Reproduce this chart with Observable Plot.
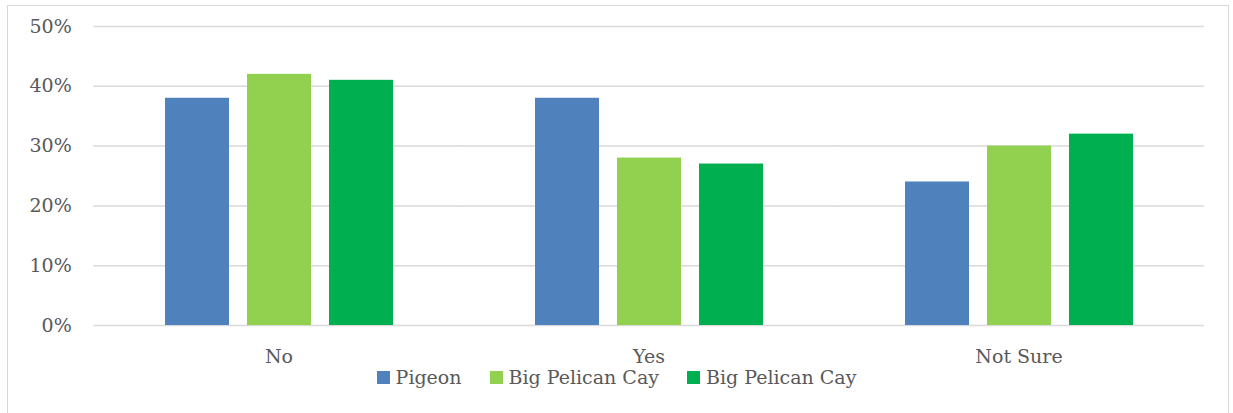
<!DOCTYPE html>
<html>
<head>
<meta charset="utf-8">
<script src="https://cdn.jsdelivr.net/npm/d3@7"></script>
<script src="https://cdn.jsdelivr.net/npm/@observablehq/plot@0.6"></script>
<style>
  html, body { margin: 0; padding: 0; background: #fff; }
  #wrap { position: relative; width: 1233px; height: 413px; overflow: hidden; font-family: "DejaVu Serif", serif; color: #595959; }
  #frame { position: absolute; left: 7px; top: 5px; width: 1222px; height: 420px; border: 1.5px solid #d9d9d9; box-sizing: border-box; }
  #chart { position: absolute; left: 0; top: 0; }
  #legend { position: absolute; left: 0; top: 366px; width: 1233px; display: flex; justify-content: center; align-items: center; font-size: 19px; gap: 28px; }
  .item { display: flex; align-items: center; }
  .sw { width: 13px; height: 13px; margin-right: 6px; }
</style>
</head>
<body>
<div id="wrap">
  <div id="frame"></div>
  <div id="chart"></div>
  <div id="legend"></div>
</div>
<script>
const categories = ["No", "Yes", "Not Sure"];
const seriesNames = ["Pigeon", "Big Pelican Cay", "Big Pelican Cay"];
const seriesKeys = ["s1", "s2", "s3"];
const seriesColors = ["#4F81BD", "#92D050", "#00B050"];
const pigeon = [0.38, 0.38, 0.24];
const bigPelicanCayA = [0.42, 0.28, 0.30];
const bigPelicanCayB = [0.41, 0.27, 0.32];
const yTicks = [0, 0.1, 0.2, 0.3, 0.4, 0.5];

const seriesValues = [pigeon, bigPelicanCayA, bigPelicanCayB];
const rows = [];
categories.forEach((c, i) => {
  seriesKeys.forEach((k, j) => rows.push({category: c, series: k, value: seriesValues[j][i]}));
});

const W = 1233, ML = 92, MR = 29;
const padInner = 0.382, padOuter = padInner / 2;
const step = (W - ML - MR) / categories.length;
const ext = (step * padInner) / 2;

const chart = Plot.plot({
  width: W,
  height: 366,
  marginLeft: ML,
  marginRight: MR,
  marginTop: 26,
  marginBottom: 41,
  style: {fontFamily: "DejaVu Serif", fontSize: "19px", color: "#595959", background: "transparent"},
  fx: {domain: categories, paddingInner: padInner, paddingOuter: padOuter, label: null, tickSize: 0, tickPadding: 24, axis: "bottom"},
  x: {domain: seriesKeys, paddingInner: 0.22, paddingOuter: 0, axis: null},
  y: {domain: [0, 0.5], ticks: yTicks, tickFormat: d => Math.round(d * 100) + "%", label: null, tickSize: 0, tickPadding: 22 + ext},
  color: {domain: seriesKeys, range: seriesColors},
  marks: [
    Plot.ruleY(yTicks, {stroke: "#d9d9d9", strokeWidth: 1.5, insetLeft: -ext, insetRight: -ext}),
    Plot.barY(rows, {fx: "category", x: "series", y: "value", fill: "series"})
  ]
});
document.getElementById("chart").appendChild(chart);

const legend = document.getElementById("legend");
seriesNames.forEach((n, i) => {
  const item = document.createElement("div");
  item.className = "item";
  const sw = document.createElement("div");
  sw.className = "sw";
  sw.style.background = seriesColors[i];
  const t = document.createElement("span");
  t.textContent = n;
  item.appendChild(sw);
  item.appendChild(t);
  legend.appendChild(item);
});
</script>
</body>
</html>
